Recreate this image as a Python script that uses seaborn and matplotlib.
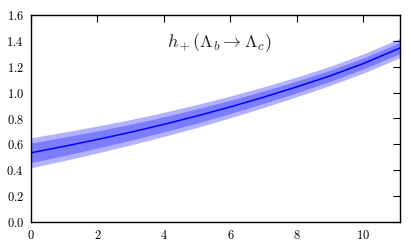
import matplotlib
matplotlib.use("Agg")
import matplotlib.pyplot as plt
import seaborn as sns
import pandas as pd

# data
q2 = [0, 1, 2, 3, 4, 5, 6, 7, 8, 9, 10, 11.1]
h_central = [0.535, 0.585, 0.638, 0.694, 0.755, 0.82, 0.89, 0.965, 1.045, 1.13, 1.225, 1.345]
err_inner = [0.076, 0.071, 0.066, 0.062, 0.058, 0.055, 0.051, 0.048, 0.045, 0.043, 0.042, 0.043]
err_outer = [0.116, 0.11, 0.104, 0.098, 0.093, 0.089, 0.084, 0.08, 0.076, 0.074, 0.074, 0.075]
xticks = [0, 2, 4, 6, 8, 10]
yticks = [0.0, 0.2, 0.4, 0.6, 0.8, 1.0, 1.2, 1.4, 1.6]
title = r"$h_+(\Lambda_b \rightarrow \Lambda_c)$"

sns.set_style("white")
plt.rcParams["mathtext.fontset"] = "cm"
plt.rcParams["font.family"] = ["DejaVu Serif"]

df = pd.DataFrame({"q2": q2, "h": h_central})

fig = plt.figure(figsize=(4.11, 2.49), dpi=100)
ax = fig.add_axes([31 / 411, 27 / 249, 369 / 411, 207 / 249])

lo_o = [c - e for c, e in zip(h_central, err_outer)]
hi_o = [c + e for c, e in zip(h_central, err_outer)]
lo_i = [c - e for c, e in zip(h_central, err_inner)]
hi_i = [c + e for c, e in zip(h_central, err_inner)]
ax.fill_between(q2, lo_o, hi_o, color="#0000ff", alpha=0.3, linewidth=0)
ax.fill_between(q2, lo_i, hi_i, color="#0000ff", alpha=0.3, linewidth=0)
sns.lineplot(data=df, x="q2", y="h", ax=ax, color="#0000ff", linewidth=1.1)

ax.set_xlim(0, 11.1)
ax.set_ylim(0, 1.6)
ax.set_xticks(xticks, [f"${t}$" for t in xticks])
ax.set_yticks(yticks, [f"${t:.1f}$" for t in yticks])
ax.tick_params(direction="in", top=True, right=True, length=5, width=0.8,
               labelsize=9, pad=5, colors="black")
ax.set_xlabel("")
ax.set_ylabel("")
for s in ax.spines.values():
    s.set_color("black")
    s.set_linewidth(1.0)

ax.text(5.65, 1.39, title, fontsize=13, ha="center", va="center")

fig.savefig("out.png", dpi=100)
